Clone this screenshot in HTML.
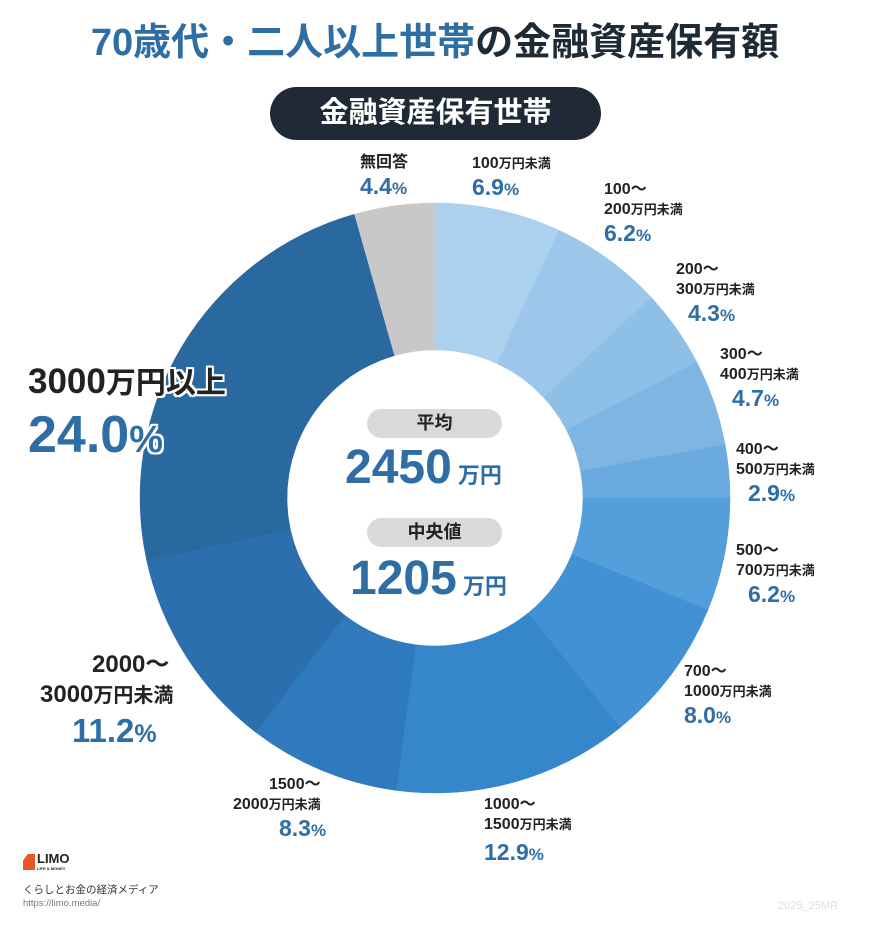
<!DOCTYPE html>
<html><head><meta charset="utf-8"><style>
body{margin:0;width:870px;height:931px;background:#fff;position:relative;overflow:hidden;font-family:"Liberation Sans","Noto Sans CJK JP",sans-serif;color:#222}
.a{position:absolute;white-space:nowrap}
.t{font-weight:bold;font-size:16px;line-height:20px;color:#222}
.t small{font-size:13px}
.p{font-weight:bold;font-size:23px;color:#2e6ea5;line-height:26px}
.p small{font-size:17px}
.w{text-shadow:2px 0 #fff,-2px 0 #fff,0 2px #fff,0 -2px #fff,2px 2px #fff,-2px -2px #fff,2px -2px #fff,-2px 2px #fff}
</style></head><body>
<div class="a" style="left:0;width:870px;top:18px;text-align:center;font-size:38px;font-weight:bold;line-height:50px"><span style="color:#2e6ea5">70歳代・二人以上世帯</span><span style="color:#1e2a36">の金融資産保有額</span></div>
<div class="a" style="left:270px;top:87px;width:331px;height:53px;border-radius:27px;background:#1f2a36;color:#fff;font-size:29px;font-weight:bold;text-align:center;line-height:53px">金融資産保有世帯</div>
<svg class="a" style="left:0;top:0" width="870" height="931" id="s"></svg>
<script>
var d=[[6.9,'#abd1ee'],[6.2,'#9cc7ea'],[4.3,'#8ec0e7'],[4.7,'#7db5e3'],[2.9,'#6aaade'],[6.2,'#549edb'],[8.0,'#4391d5'],[12.9,'#3686cb'],[8.3,'#2f7abd'],[11.2,'#2b6faf'],[24.0,'#2a68a0'],[4.4,'#c8c8c8']];
var cx=435,cy=498,R=295,r=148,a=0,h='';
function pt(rad,ang){var t=ang/100*2*Math.PI;return [cx+rad*Math.sin(t),cy-rad*Math.cos(t)];}
d.forEach(function(x){var b=a+x[0],l=x[0]>50?1:0,p1=pt(R,a),p2=pt(R,b),p3=pt(r,b),p4=pt(r,a);
h+='<path fill="'+x[1]+'" stroke="'+x[1]+'" stroke-width="0.5" d="M'+p1+' A'+R+' '+R+' 0 '+l+' 1 '+p2+' L'+p3+' A'+r+' '+r+' 0 '+l+' 0 '+p4+'Z"/>';a=b;});
document.getElementById('s').innerHTML=h;
</script>
<div class="a" style="left:367px;top:409px;width:135px;height:29px;border-radius:15px;background:#d9d9d9;text-align:center;font-size:18px;font-weight:bold;line-height:29px;color:#222">平均</div>
<div class="a" style="left:345px;top:440px;font-weight:bold;color:#2e6ea5;font-size:48px;line-height:56px">2450<span style="font-size:22px;color:#2e6ea5"> 万円</span></div>
<div class="a" style="left:367px;top:518px;width:135px;height:29px;border-radius:15px;background:#d9d9d9;text-align:center;font-size:18px;font-weight:bold;line-height:29px;color:#222">中央値</div>
<div class="a" style="left:350px;top:551px;font-weight:bold;color:#2e6ea5;font-size:48px;line-height:56px">1205<span style="font-size:22px;color:#2e6ea5"> 万円</span></div>

<div class="a" style="left:360px;top:153px"><div class="t">無回答</div><div class="p">4.4<small>%</small></div></div>
<div class="a" style="left:472px;top:154px"><div class="t">100<small>万円未満</small></div><div class="p">6.9<small>%</small></div></div>
<div class="a" style="left:604px;top:180px"><div class="t">100〜<br>200<small>万円未満</small></div><div class="p">6.2<small>%</small></div></div>
<div class="a" style="left:676px;top:260px"><div class="t">200〜<br>300<small>万円未満</small></div><div class="p" style="padding-left:12px">4.3<small>%</small></div></div>
<div class="a" style="left:720px;top:345px"><div class="t">300〜<br>400<small>万円未満</small></div><div class="p" style="padding-left:12px">4.7<small>%</small></div></div>
<div class="a" style="left:736px;top:440px"><div class="t">400〜<br>500<small>万円未満</small></div><div class="p" style="padding-left:12px">2.9<small>%</small></div></div>
<div class="a" style="left:736px;top:541px"><div class="t">500〜<br>700<small>万円未満</small></div><div class="p" style="padding-left:12px">6.2<small>%</small></div></div>
<div class="a" style="left:684px;top:662px"><div class="t">700〜<br>1000<small>万円未満</small></div><div class="p">8.0<small>%</small></div></div>
<div class="a" style="left:484px;top:795px"><div class="t">1000〜<br>1500<small>万円未満</small></div><div class="p" style="margin-top:4px">12.9<small>%</small></div></div>
<div class="a" style="left:233px;top:775px"><div class="t" style="padding-left:36px">1500〜</div><div class="t">2000<small>万円未満</small></div><div class="p" style="padding-left:46px">8.3<small>%</small></div></div>
<div class="a" style="left:40px;top:650px"><div class="t" style="font-size:24px;line-height:30px;padding-left:52px">2000〜</div><div class="t" style="font-size:24px;line-height:30px">3000<small style="font-size:20px">万円未満</small></div><div class="p" style="font-size:33px;line-height:40px;padding-left:32px">11.2<small style="font-size:25px">%</small></div></div>
<div class="a w" style="left:28px;top:360px"><div class="t" style="font-size:35px;line-height:44px">3000<small style="font-size:30px">万円以上</small></div><div class="p" style="font-size:52px;line-height:58px">24.0<small style="font-size:38px">%</small></div></div>

<div class="a" style="left:23px;top:854px;width:12px;height:16px;background:#e8572a;clip-path:polygon(40% 0,100% 0,100% 100%,0 100%,0 40%)"></div>
<div class="a" style="left:37px;top:851px;font-weight:bold;font-size:13px;color:#222;line-height:15px">LIMO</div>
<div class="a" style="left:37px;top:866px;font-weight:bold;font-size:4px;color:#222">LIFE &amp; MONEY</div>
<div class="a" style="left:23px;top:882px;font-size:10.5px;color:#333">くらしとお金の経済メディア</div>
<div class="a" style="left:23px;top:898px;font-size:9.5px;color:#777">https://limo.media/</div>
<div class="a" style="left:778px;top:900px;font-size:11px;color:#ddd">2025_25MR</div>
</body></html>
